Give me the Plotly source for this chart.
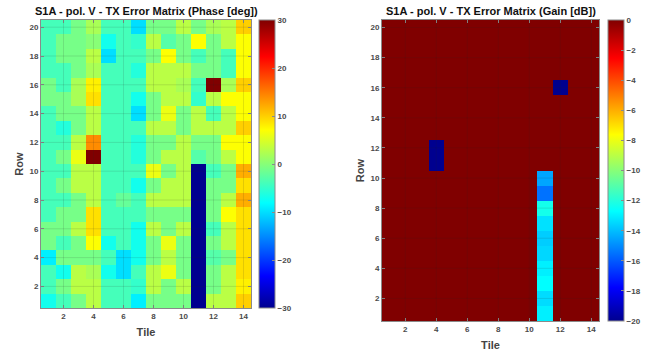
import plotly.graph_objects as go

W, H = 652, 353

tiles = list(range(1, 15))
rows = list(range(1, 21))
x_ticks = [2, 4, 6, 8, 10, 12, 14]
y_ticks = [2, 4, 6, 8, 10, 12, 14, 16, 18, 20]
phase_cb_ticks = [-30, -20, -10, 0, 10, 20, 30]
gain_cb_ticks = [-20, -18, -16, -14, -12, -10, -8, -6, -4, -2, 0]

# Phase error [deg], rows 1..20 (bottom to top), tiles 1..14
phase = [
    [-7, -4, -1, 3, -4, -4, -9, -1, -1, -1, -30, 3, 3, 10],    # row 1
    [-4, -1, 3, 3, -4, -4, -5, 3, -1, 3, -30, -1, 3, 8],      # row 2
    [-4, -7, 3, 2, -7, -10, -4, 3, 6, -1, -30, -1, 3, 9],     # row 3
    [-9, -1, -1, -1, -4, -10, -7, -1, 3, -1, -30, -3, -1, 9],  # row 4
    [-1, -4, -1, 7, -7, -4, -7, -1, 6, -1, -30, -1, 3, 9],    # row 5
    [-1, -1, 3, 9, -4, -4, -7, 3, -1, 3, -30, -4, 3, 9],      # row 6
    [-4, -1, -1, 9, -4, -4, -4, -1, -1, -1, -30, -1, 7, 9],   # row 7
    [-4, -4, -1, 3, -4, -2, -4, 3, 3, 3, -30, -1, 3, 12],     # row 8
    [-4, -1, 3, 3, -4, -4, -7, -1, 3, 3, -30, -1, -1, 9],     # row 9
    [-4, -4, 3, 3, -4, -4, -4, 6, -1, 3, -30, -4, -1, 12],    # row 10
    [-4, -1, 6, 30, -4, -4, -6, -1, 3, 3, -3, -1, 3, 7],      # row 11
    [-4, -4, 3, 14, -4, -4, -6, -1, -1, 3, -1, -1, 7, 7],     # row 12
    [-4, -6, -1, 3, -4, -4, -4, 3, 3, -1, 3, 3, 3, 10],       # row 13
    [-4, -1, -1, 3, -4, -4, -10, -1, 6, -1, 3, -4, 3, 7],     # row 14
    [-1, -1, 2, 9, -4, -4, -7, -1, 3, 3, -5, 3, 7, 7],        # row 15
    [-1, -4, 2, 8, -4, -4, -4, 3, 3, 2, -4, 30, 2, 10],       # row 16
    [-4, -4, -1, 2, -4, -4, -6, 3, 3, 3, -1, -1, -4, 7],      # row 17
    [-4, -1, -1, 3, -10, -4, -4, -1, 7, -1, -4, -1, -4, 7],   # row 18
    [-4, -1, -1, 0, -7, -4, -5, 3, -3, -1, 7, -1, 3, 7],      # row 19
    [-4, -4, -1, 2, -4, -4, -10, -1, -1, 3, -1, 2, 3, 10],    # row 20
]

# Gain error [dB], rows 1..20 (bottom to top), tiles 1..14
gain = [
    [0, 0, 0, 0, 0, 0, 0, 0, 0, 0, -13.0, 0, 0, 0],    # row 1
    [0, 0, 0, 0, 0, 0, 0, 0, 0, 0, -13.4, 0, 0, 0],    # row 2
    [0, 0, 0, 0, 0, 0, 0, 0, 0, 0, -12.7, 0, 0, 0],    # row 3
    [0, 0, 0, 0, 0, 0, 0, 0, 0, 0, -13.0, 0, 0, 0],    # row 4
    [0, 0, 0, 0, 0, 0, 0, 0, 0, 0, -13.5, 0, 0, 0],    # row 5
    [0, 0, 0, 0, 0, 0, 0, 0, 0, 0, -13.7, 0, 0, 0],    # row 6
    [0, 0, 0, 0, 0, 0, 0, 0, 0, 0, -13.3, 0, 0, 0],    # row 7
    [0, 0, 0, 0, 0, 0, 0, 0, 0, 0, -12.3, 0, 0, 0],    # row 8
    [0, 0, 0, 0, 0, 0, 0, 0, 0, 0, -15.5, 0, 0, 0],    # row 9
    [0, 0, 0, 0, 0, 0, 0, 0, 0, 0, -14.5, 0, 0, 0],    # row 10
    [0, 0, 0, -20, 0, 0, 0, 0, 0, 0, 0, 0, 0, 0],      # row 11
    [0, 0, 0, -20, 0, 0, 0, 0, 0, 0, 0, 0, 0, 0],      # row 12
    [0] * 14,                                          # row 13
    [0] * 14,                                          # row 14
    [0] * 14,                                          # row 15
    [0, 0, 0, 0, 0, 0, 0, 0, 0, 0, 0, -20, 0, 0],      # row 16
    [0] * 14,                                          # row 17
    [0] * 14,                                          # row 18
    [0] * 14,                                          # row 19
    [0] * 14,                                          # row 20
]

jet = [
    [0.0, "rgb(0,0,143)"],
    [0.111, "rgb(0,0,255)"],
    [0.365, "rgb(0,255,255)"],
    [0.619, "rgb(255,255,0)"],
    [0.873, "rgb(255,0,0)"],
    [1.0, "rgb(128,0,0)"],
]

FONT = "Liberation Sans, Arial, sans-serif"
TICKCOL = "#4a4a4a"
BOXCOL = "#8a8a8a"
TICKFONT = dict(family=FONT, size=8, color=TICKCOL, weight="bold")
TITLEFONT = dict(family=FONT, size=11, color="#444", weight="bold")

def px_x(p):
    return p / W

def px_y(p):
    return 1 - p / H

L1 = (41, 251, 20, 308)   # left, right, top, bottom in px
L2 = (382, 599, 20, 321)

fig = go.Figure()

fig.add_trace(go.Heatmap(
    z=phase, x=tiles, y=rows, colorscale=jet, zmin=-30, zmax=30,
    xaxis="x", yaxis="y",
    colorbar=dict(
        x=px_x(259), xanchor="left", xpad=0, ypad=0,
        y=px_y(L1[2]), yanchor="top", len=(L1[3] - L1[2]) / H, lenmode="fraction",
        thickness=16, thicknessmode="pixels",
        outlinecolor=BOXCOL, outlinewidth=1,
        tickvals=phase_cb_ticks, ticks="inside", ticklen=3, tickcolor=BOXCOL,
        tickfont=TICKFONT,
    ),
))

fig.add_trace(go.Heatmap(
    z=gain, x=tiles, y=rows, colorscale=jet, zmin=-20, zmax=0,
    xaxis="x2", yaxis="y2",
    colorbar=dict(
        x=px_x(608), xanchor="left", xpad=0, ypad=0,
        y=px_y(L2[2]), yanchor="top", len=(L2[3] - L2[2]) / H, lenmode="fraction",
        thickness=16, thicknessmode="pixels",
        outlinecolor=BOXCOL, outlinewidth=1,
        tickvals=gain_cb_ticks, ticks="inside", ticklen=3, tickcolor=BOXCOL,
        tickfont=TICKFONT,
    ),
))

def xaxis_cfg(box, anchor):
    return dict(
        domain=[px_x(box[0]), px_x(box[1])], anchor=anchor,
        range=[0.5, 14.5], tickvals=x_ticks, ticks="inside", ticklen=3,
        tickcolor=BOXCOL, showline=True, linecolor=BOXCOL, linewidth=1,
        mirror="ticks", showgrid=False, zeroline=False,
        tickfont=TICKFONT,
        title=dict(text="Tile", standoff=8, font=TITLEFONT),
    )

def yaxis_cfg(box, anchor):
    return dict(
        domain=[px_y(box[3]), px_y(box[2])], anchor=anchor,
        range=[0.5, 20.5], tickvals=y_ticks, ticks="inside", ticklen=3,
        tickcolor=BOXCOL, showline=True, linecolor=BOXCOL, linewidth=1,
        mirror="ticks", showgrid=False, zeroline=False,
        tickfont=TICKFONT,
        title=dict(text="Row", standoff=3, font=TITLEFONT),
    )

shapes = []
for xr, yr in (("x", "y"), ("x2", "y2")):
    for t in x_ticks:
        shapes.append(dict(type="line", xref=xr, yref=yr, x0=t, x1=t, y0=0.5, y1=20.5,
                           line=dict(color="rgba(40,40,40,0.13)", width=1), layer="above"))
    for t in y_ticks:
        shapes.append(dict(type="line", xref=xr, yref=yr, x0=0.5, x1=14.5, y0=t, y1=t,
                           line=dict(color="rgba(40,40,40,0.13)", width=1), layer="above"))

annotations = [
    dict(text="<b>S1A - pol. V - TX Error Matrix (Phase [deg])</b>", xref="paper", yref="paper",
         x=px_x((L1[0] + L1[1]) / 2), y=px_y(11.5), xanchor="center", yanchor="middle",
         showarrow=False, font=dict(family=FONT, size=11, color="#111")),
    dict(text="<b>S1A - pol. V - TX Error Matrix (Gain [dB])</b>", xref="paper", yref="paper",
         x=px_x((L2[0] + L2[1]) / 2), y=px_y(11.5), xanchor="center", yanchor="middle",
         showarrow=False, font=dict(family=FONT, size=11, color="#111")),
]

fig.update_layout(
    width=W, height=H, margin=dict(l=0, r=0, t=0, b=0, autoexpand=False),
    paper_bgcolor="white", plot_bgcolor="white",
    xaxis=xaxis_cfg(L1, "y"), yaxis=yaxis_cfg(L1, "x"),
    xaxis2=xaxis_cfg(L2, "y2"), yaxis2=yaxis_cfg(L2, "x2"),
    shapes=shapes, annotations=annotations, showlegend=False,
)

fig.write_html(
    "out.html",
    config={"displayModeBar": False},
    post_script="document.body.style.margin='0';document.body.style.overflow='hidden';",
)
